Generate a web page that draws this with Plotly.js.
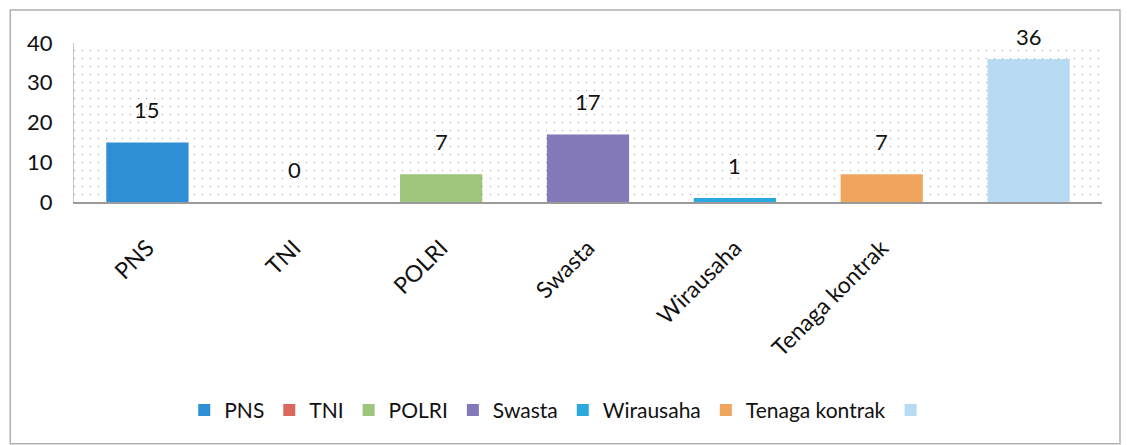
<!DOCTYPE html>
<html>
<head>
<meta charset="utf-8">
<script src="https://cdn.plot.ly/plotly-3.0.1.min.js"></script>
<style>html,body{margin:0;padding:0;background:#fff;}#chart{width:1127px;height:445px;}</style>
</head>
<body>
<div id="chart"></div>
<script>
const categories = ["PNS", "TNI", "POLRI", "Swasta", "Wirausaha", "Tenaga kontrak", " "];
const legendNames = ["PNS", "TNI", "POLRI", "Swasta", "Wirausaha", "Tenaga kontrak", ""];
const values = [15, 0, 7, 17, 1, 7, 36];
const colors = ["#2f8fd5", "#d9695c", "#9dc57c", "#8479b8", "#2ba9df", "#f0a55e", "#b9daf3"];
const yTicks = [0, 10, 20, 30, 40];

const FONT = "Lato, 'Open Sans', sans-serif";

const traces = categories.map((c, i) => ({
  type: "bar",
  x: [c],
  y: [values[i]],
  name: legendNames[i],
  marker: {color: colors[i], line: {width: 0}},
  hoverinfo: "x+y"
}));

const annotations = categories.map((c, i) => ({
  x: c, y: values[i], xref: "x", yref: "y",
  text: String(values[i]), showarrow: false,
  yanchor: "bottom", yshift: values[i] > 30 ? 7 : 17,
  font: {family: FONT, size: 22, color: "#111"}
}));

const layout = {
  width: 1127, height: 445,
  margin: {l: 74, r: 25, t: 43, b: 243},
  paper_bgcolor: "#fff", plot_bgcolor: "#fff",
  barmode: "overlay",
  bargap: 0.44,
  showlegend: true,
  font: {family: FONT, color: "#111"},
  xaxis: {
    type: "category",
    categoryorder: "array", categoryarray: categories,
    tickangle: -45,
    tickfont: {size: 23, color: "#111"},
    showline: true, linecolor: "#9a9a9a", linewidth: 1.5,
    showgrid: false, ticks: "", ticklabelstandoff: 22,
    fixedrange: true
  },
  yaxis: {
    range: [0, 40],
    tickvals: yTicks, ticktext: yTicks.map(String),
    tickfont: {size: 22, color: "#111"},
    showline: true, linecolor: "#c8c8c8", linewidth: 1,
    showgrid: true, gridcolor: "#a0a0a0", gridwidth: 1, griddash: "1px,7px",
    minor: {dtick: 2, showgrid: true, gridcolor: "#a0a0a0", gridwidth: 1, griddash: "1px,7px"},
    zeroline: false, ticks: "", ticklabelstandoff: 16,
    fixedrange: true
  },
  legend: {
    orientation: "h", x: 0.473, xanchor: "center", y: -1.31, yanchor: "middle",
    font: {size: 21, color: "#111"}, itemwidth: 30, traceorder: "normal"
  },
  annotations: annotations,
  shapes: [{
    type: "rect", xref: "paper", yref: "paper",
    x0: -0.062, x1: 1.0175, y0: -1.52, y1: 1.207,
    line: {color: "#b0b0b0", width: 1.5}, fillcolor: "rgba(0,0,0,0)", layer: "below"
  }]
};

Plotly.newPlot("chart", traces, layout, {displayModeBar: false, staticPlot: true});
</script>
</body>
</html>
